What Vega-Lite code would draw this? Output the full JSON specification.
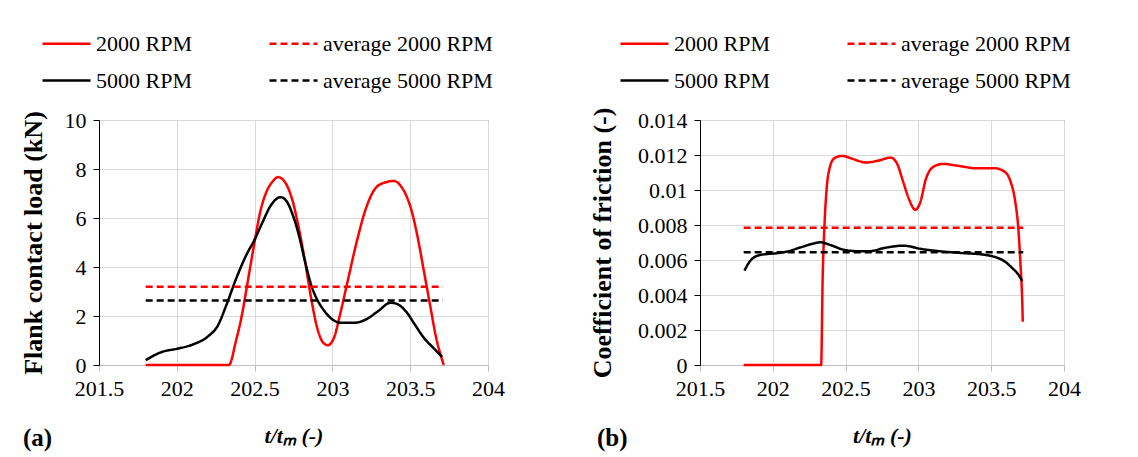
{
  "$schema": "https://vega.github.io/schema/vega-lite/v6.json",
  "padding": {"left": 19, "top": 17, "right": 5, "bottom": 5},
  "background": "white",
  "config": {
    "font": "Liberation Serif",
    "view": {"stroke": "#404040", "strokeWidth": 1},
    "axis": {
      "labelFont": "Liberation Serif", "labelFontSize": 22, "labelColor": "#000",
      "titleFont": "Liberation Serif", "titleColor": "#000", "titleFontWeight": "bold",
      "gridColor": "#d9d9d9", "gridWidth": 1, "tickSize": 6
    },
    "legend": {
      "labelFont": "Liberation Serif", "labelFontSize": 22, "labelColor": "#000", "labelLimit": 0
    },
    "title": {"font": "Liberation Serif", "fontSize": 25, "fontWeight": "bold", "color": "#000"}
  },
  "datasets": {
    "d": [
      {"panel": "load", "series": "2000 RPM", "t": 201.8, "v": 0},
      {"panel": "load", "series": "2000 RPM", "t": 202.0, "v": 0},
      {"panel": "load", "series": "2000 RPM", "t": 202.2, "v": 0},
      {"panel": "load", "series": "2000 RPM", "t": 202.335, "v": 0},
      {"panel": "load", "series": "2000 RPM", "t": 202.38, "v": 0.98},
      {"panel": "load", "series": "2000 RPM", "t": 202.419, "v": 2.06},
      {"panel": "load", "series": "2000 RPM", "t": 202.449, "v": 3.15},
      {"panel": "load", "series": "2000 RPM", "t": 202.478, "v": 4.23},
      {"panel": "load", "series": "2000 RPM", "t": 202.508, "v": 5.32},
      {"panel": "load", "series": "2000 RPM", "t": 202.537, "v": 6.27},
      {"panel": "load", "series": "2000 RPM", "t": 202.577, "v": 7.08},
      {"panel": "load", "series": "2000 RPM", "t": 202.616, "v": 7.49},
      {"panel": "load", "series": "2000 RPM", "t": 202.651, "v": 7.67},
      {"panel": "load", "series": "2000 RPM", "t": 202.706, "v": 7.35},
      {"panel": "load", "series": "2000 RPM", "t": 202.745, "v": 6.68},
      {"panel": "load", "series": "2000 RPM", "t": 202.784, "v": 5.59},
      {"panel": "load", "series": "2000 RPM", "t": 202.824, "v": 4.23},
      {"panel": "load", "series": "2000 RPM", "t": 202.863, "v": 2.74},
      {"panel": "load", "series": "2000 RPM", "t": 202.902, "v": 1.52},
      {"panel": "load", "series": "2000 RPM", "t": 202.941, "v": 0.91},
      {"panel": "load", "series": "2000 RPM", "t": 202.971, "v": 0.81},
      {"panel": "load", "series": "2000 RPM", "t": 203.01, "v": 1.11},
      {"panel": "load", "series": "2000 RPM", "t": 203.049, "v": 2.06},
      {"panel": "load", "series": "2000 RPM", "t": 203.098, "v": 3.42},
      {"panel": "load", "series": "2000 RPM", "t": 203.157, "v": 5.05},
      {"panel": "load", "series": "2000 RPM", "t": 203.216, "v": 6.4},
      {"panel": "load", "series": "2000 RPM", "t": 203.275, "v": 7.2},
      {"panel": "load", "series": "2000 RPM", "t": 203.333, "v": 7.44},
      {"panel": "load", "series": "2000 RPM", "t": 203.395, "v": 7.51},
      {"panel": "load", "series": "2000 RPM", "t": 203.451, "v": 7.2},
      {"panel": "load", "series": "2000 RPM", "t": 203.51, "v": 6.27},
      {"panel": "load", "series": "2000 RPM", "t": 203.549, "v": 5.18},
      {"panel": "load", "series": "2000 RPM", "t": 203.588, "v": 3.83},
      {"panel": "load", "series": "2000 RPM", "t": 203.627, "v": 2.47},
      {"panel": "load", "series": "2000 RPM", "t": 203.667, "v": 1.11},
      {"panel": "load", "series": "2000 RPM", "t": 203.716, "v": 0},

      {"panel": "load", "series": "5000 RPM", "t": 201.8, "v": 0.2},
      {"panel": "load", "series": "5000 RPM", "t": 201.907, "v": 0.54},
      {"panel": "load", "series": "5000 RPM", "t": 202.0, "v": 0.66},
      {"panel": "load", "series": "5000 RPM", "t": 202.104, "v": 0.84},
      {"panel": "load", "series": "5000 RPM", "t": 202.203, "v": 1.18},
      {"panel": "load", "series": "5000 RPM", "t": 202.262, "v": 1.59},
      {"panel": "load", "series": "5000 RPM", "t": 202.32, "v": 2.47},
      {"panel": "load", "series": "5000 RPM", "t": 202.38, "v": 3.5},
      {"panel": "load", "series": "5000 RPM", "t": 202.44, "v": 4.4},
      {"panel": "load", "series": "5000 RPM", "t": 202.508, "v": 5.22},
      {"panel": "load", "series": "5000 RPM", "t": 202.549, "v": 5.8},
      {"panel": "load", "series": "5000 RPM", "t": 202.608, "v": 6.55},
      {"panel": "load", "series": "5000 RPM", "t": 202.667, "v": 6.85},
      {"panel": "load", "series": "5000 RPM", "t": 202.706, "v": 6.68},
      {"panel": "load", "series": "5000 RPM", "t": 202.745, "v": 6.13},
      {"panel": "load", "series": "5000 RPM", "t": 202.784, "v": 5.32},
      {"panel": "load", "series": "5000 RPM", "t": 202.824, "v": 4.23},
      {"panel": "load", "series": "5000 RPM", "t": 202.863, "v": 3.28},
      {"panel": "load", "series": "5000 RPM", "t": 202.902, "v": 2.67},
      {"panel": "load", "series": "5000 RPM", "t": 202.941, "v": 2.27},
      {"panel": "load", "series": "5000 RPM", "t": 203.0, "v": 1.86},
      {"panel": "load", "series": "5000 RPM", "t": 203.059, "v": 1.72},
      {"panel": "load", "series": "5000 RPM", "t": 203.137, "v": 1.72},
      {"panel": "load", "series": "5000 RPM", "t": 203.216, "v": 1.86},
      {"panel": "load", "series": "5000 RPM", "t": 203.294, "v": 2.2},
      {"panel": "load", "series": "5000 RPM", "t": 203.373, "v": 2.54},
      {"panel": "load", "series": "5000 RPM", "t": 203.412, "v": 2.5},
      {"panel": "load", "series": "5000 RPM", "t": 203.471, "v": 2.2},
      {"panel": "load", "series": "5000 RPM", "t": 203.529, "v": 1.66},
      {"panel": "load", "series": "5000 RPM", "t": 203.588, "v": 1.11},
      {"panel": "load", "series": "5000 RPM", "t": 203.647, "v": 0.71},
      {"panel": "load", "series": "5000 RPM", "t": 203.706, "v": 0.33},

      {"panel": "load", "series": "average 2000 RPM", "t": 201.8, "v": 3.19},
      {"panel": "load", "series": "average 2000 RPM", "t": 203.71, "v": 3.19},
      {"panel": "load", "series": "average 5000 RPM", "t": 201.8, "v": 2.63},
      {"panel": "load", "series": "average 5000 RPM", "t": 203.71, "v": 2.63},

      {"panel": "cof", "series": "2000 RPM", "t": 201.8, "v": 0},
      {"panel": "cof", "series": "2000 RPM", "t": 202.0, "v": 0},
      {"panel": "cof", "series": "2000 RPM", "t": 202.2, "v": 0},
      {"panel": "cof", "series": "2000 RPM", "t": 202.332, "v": 0},
      {"panel": "cof", "series": "2000 RPM", "t": 202.342, "v": 0.0048},
      {"panel": "cof", "series": "2000 RPM", "t": 202.355, "v": 0.008},
      {"panel": "cof", "series": "2000 RPM", "t": 202.37, "v": 0.0101},
      {"panel": "cof", "series": "2000 RPM", "t": 202.39, "v": 0.01124},
      {"panel": "cof", "series": "2000 RPM", "t": 202.422, "v": 0.01181},
      {"panel": "cof", "series": "2000 RPM", "t": 202.475, "v": 0.01195},
      {"panel": "cof", "series": "2000 RPM", "t": 202.538, "v": 0.01181},
      {"panel": "cof", "series": "2000 RPM", "t": 202.59, "v": 0.01166},
      {"panel": "cof", "series": "2000 RPM", "t": 202.641, "v": 0.01157},
      {"panel": "cof", "series": "2000 RPM", "t": 202.726, "v": 0.01168},
      {"panel": "cof", "series": "2000 RPM", "t": 202.81, "v": 0.01185},
      {"panel": "cof", "series": "2000 RPM", "t": 202.852, "v": 0.01153},
      {"panel": "cof", "series": "2000 RPM", "t": 202.895, "v": 0.01048},
      {"panel": "cof", "series": "2000 RPM", "t": 202.937, "v": 0.00944},
      {"panel": "cof", "series": "2000 RPM", "t": 202.979, "v": 0.00887},
      {"panel": "cof", "series": "2000 RPM", "t": 203.011, "v": 0.00925},
      {"panel": "cof", "series": "2000 RPM", "t": 203.053, "v": 0.01067},
      {"panel": "cof", "series": "2000 RPM", "t": 203.105, "v": 0.01134},
      {"panel": "cof", "series": "2000 RPM", "t": 203.169, "v": 0.01149},
      {"panel": "cof", "series": "2000 RPM", "t": 203.274, "v": 0.01138},
      {"panel": "cof", "series": "2000 RPM", "t": 203.401, "v": 0.01124},
      {"panel": "cof", "series": "2000 RPM", "t": 203.527, "v": 0.01124},
      {"panel": "cof", "series": "2000 RPM", "t": 203.591, "v": 0.01105},
      {"panel": "cof", "series": "2000 RPM", "t": 203.633, "v": 0.01048},
      {"panel": "cof", "series": "2000 RPM", "t": 203.665, "v": 0.00934},
      {"panel": "cof", "series": "2000 RPM", "t": 203.686, "v": 0.00783},
      {"panel": "cof", "series": "2000 RPM", "t": 203.7, "v": 0.00593},
      {"panel": "cof", "series": "2000 RPM", "t": 203.713, "v": 0.00365},
      {"panel": "cof", "series": "2000 RPM", "t": 203.717, "v": 0.00247},

      {"panel": "cof", "series": "5000 RPM", "t": 201.805, "v": 0.00539},
      {"panel": "cof", "series": "5000 RPM", "t": 201.843, "v": 0.00593},
      {"panel": "cof", "series": "5000 RPM", "t": 201.896, "v": 0.00625},
      {"panel": "cof", "series": "5000 RPM", "t": 201.959, "v": 0.00634},
      {"panel": "cof", "series": "5000 RPM", "t": 202.022, "v": 0.00638},
      {"panel": "cof", "series": "5000 RPM", "t": 202.106, "v": 0.0065},
      {"panel": "cof", "series": "5000 RPM", "t": 202.19, "v": 0.00672},
      {"panel": "cof", "series": "5000 RPM", "t": 202.275, "v": 0.00693},
      {"panel": "cof", "series": "5000 RPM", "t": 202.327, "v": 0.00701},
      {"panel": "cof", "series": "5000 RPM", "t": 202.401, "v": 0.00684},
      {"panel": "cof", "series": "5000 RPM", "t": 202.485, "v": 0.00659},
      {"panel": "cof", "series": "5000 RPM", "t": 202.59, "v": 0.0065},
      {"panel": "cof", "series": "5000 RPM", "t": 202.662, "v": 0.0065},
      {"panel": "cof", "series": "5000 RPM", "t": 202.768, "v": 0.00669},
      {"panel": "cof", "series": "5000 RPM", "t": 202.895, "v": 0.00682},
      {"panel": "cof", "series": "5000 RPM", "t": 203.021, "v": 0.00663},
      {"panel": "cof", "series": "5000 RPM", "t": 203.148, "v": 0.0065},
      {"panel": "cof", "series": "5000 RPM", "t": 203.295, "v": 0.0064},
      {"panel": "cof", "series": "5000 RPM", "t": 203.443, "v": 0.00631},
      {"panel": "cof", "series": "5000 RPM", "t": 203.527, "v": 0.00617},
      {"panel": "cof", "series": "5000 RPM", "t": 203.591, "v": 0.00593},
      {"panel": "cof", "series": "5000 RPM", "t": 203.643, "v": 0.00555},
      {"panel": "cof", "series": "5000 RPM", "t": 203.686, "v": 0.00517},
      {"panel": "cof", "series": "5000 RPM", "t": 203.713, "v": 0.00479},

      {"panel": "cof", "series": "average 2000 RPM", "t": 201.8, "v": 0.00784},
      {"panel": "cof", "series": "average 2000 RPM", "t": 203.72, "v": 0.00784},
      {"panel": "cof", "series": "average 5000 RPM", "t": 201.8, "v": 0.00644},
      {"panel": "cof", "series": "average 5000 RPM", "t": 203.72, "v": 0.00644}
    ]
  },
  "data": {"name": "d"},
  "spacing": 83,
  "resolve": {
    "scale": {"y": "independent", "color": "independent", "strokeDash": "independent"},
    "legend": {"color": "independent", "strokeDash": "independent"}
  },
  "hconcat": [
    {
      "width": 389,
      "height": 245,
      "title": {"text": "(a)", "orient": "bottom", "anchor": "start", "frame": "group", "dx": -76, "dy": -24},
      "transform": [{"filter": "datum.panel == 'load'"}],
      "mark": {"type": "line", "strokeWidth": 2.5, "interpolate": "monotone"},
      "encoding": {
        "x": {
          "field": "t", "type": "quantitative",
          "scale": {"domain": [201.5, 204], "nice": false, "zero": false},
          "axis": {"values": [201.5, 202, 202.5, 203, 203.5, 204], "format": ".1~f", "labelFlush": false,
                   "labelFont": "Liberation Serif", "labelFontSize": 22,
                   "title": "t/tₘ (-)", "titleFont": "Liberation Serif", "titleFontStyle": "italic", "titleFontSize": 22, "titlePadding": 26,
                   "domainColor": "#bfbfbf", "tickColor": "#bfbfbf", "labelPadding": 7}
        },
        "y": {
          "field": "v", "type": "quantitative",
          "scale": {"domain": [0, 10], "nice": false},
          "axis": {"values": [0, 2, 4, 6, 8, 10], "labelFont": "Liberation Serif", "labelFontSize": 22,
                   "title": "Flank contact load (kN)", "titleFontSize": 26,
                   "titlePadding": 18, "domainColor": "#000", "tickColor": "#000", "labelPadding": 7}
        },
        "color": {
          "field": "series", "type": "nominal",
          "scale": {"domain": ["2000 RPM", "5000 RPM", "average 2000 RPM", "average 5000 RPM"], "range": ["#ff0000", "#000000", "#ff0000", "#000000"]},
          "legend": {"orient": "none", "legendX": -58, "legendY": -102, "columns": 2, "title": null, "symbolType": "stroke", "symbolSize": 2304, "symbolStrokeWidth": 2.5, "labelOffset": 4, "rowPadding": -13, "columnPadding": 72, "labelLimit": 0}
        },
        "strokeDash": {
          "field": "series", "type": "nominal",
          "scale": {"domain": ["2000 RPM", "5000 RPM", "average 2000 RPM", "average 5000 RPM"], "range": [[1, 0], [1, 0], [7, 4], [7, 4]]},
          "legend": {"orient": "none", "legendX": -58, "legendY": -102, "columns": 2, "title": null, "symbolType": "stroke", "symbolSize": 2304, "symbolStrokeWidth": 2.5, "labelOffset": 4, "rowPadding": -13, "columnPadding": 72, "labelLimit": 0}
        }
      }
    },
    {
      "width": 364,
      "height": 245,
      "title": {"text": "(b)", "orient": "bottom", "anchor": "start", "frame": "group", "dx": -103, "dy": -24},
      "transform": [{"filter": "datum.panel == 'cof'"}],
      "mark": {"type": "line", "strokeWidth": 2.5, "interpolate": "monotone"},
      "encoding": {
        "x": {
          "field": "t", "type": "quantitative",
          "scale": {"domain": [201.5, 204], "nice": false, "zero": false},
          "axis": {"values": [201.5, 202, 202.5, 203, 203.5, 204], "format": ".1~f", "labelFlush": false,
                   "labelFont": "Liberation Serif", "labelFontSize": 22,
                   "title": "t/tₘ (-)", "titleFont": "Liberation Serif", "titleFontStyle": "italic", "titleFontSize": 22, "titlePadding": 26,
                   "domainColor": "#bfbfbf", "tickColor": "#bfbfbf", "labelPadding": 7}
        },
        "y": {
          "field": "v", "type": "quantitative",
          "scale": {"domain": [0, 0.014], "nice": false},
          "axis": {"values": [0, 0.002, 0.004, 0.006, 0.008, 0.01, 0.012, 0.014], "format": ".3~f",
                   "labelFont": "Liberation Serif", "labelFontSize": 22,
                   "title": "Coefficient  of friction (-)", "titleFontSize": 26,
                   "titlePadding": 22, "domainColor": "#000", "tickColor": "#000", "labelPadding": 7}
        },
        "color": {
          "field": "series", "type": "nominal",
          "scale": {"domain": ["2000 RPM", "5000 RPM", "average 2000 RPM", "average 5000 RPM"], "range": ["#ff0000", "#000000", "#ff0000", "#000000"]},
          "legend": {"orient": "none", "legendX": -81, "legendY": -102, "columns": 2, "title": null, "symbolType": "stroke", "symbolSize": 2304, "symbolStrokeWidth": 2.5, "labelOffset": 4, "rowPadding": -13, "columnPadding": 72, "labelLimit": 0}
        },
        "strokeDash": {
          "field": "series", "type": "nominal",
          "scale": {"domain": ["2000 RPM", "5000 RPM", "average 2000 RPM", "average 5000 RPM"], "range": [[1, 0], [1, 0], [7, 4], [7, 4]]},
          "legend": {"orient": "none", "legendX": -81, "legendY": -102, "columns": 2, "title": null, "symbolType": "stroke", "symbolSize": 2304, "symbolStrokeWidth": 2.5, "labelOffset": 4, "rowPadding": -13, "columnPadding": 72, "labelLimit": 0}
        }
      }
    }
  ]
}
